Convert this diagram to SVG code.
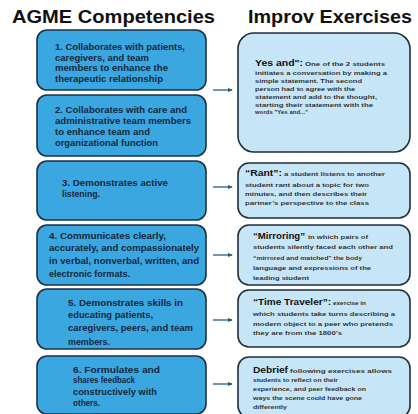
<svg xmlns="http://www.w3.org/2000/svg" width="418" height="414" viewBox="0 0 418 414">
<defs>
<style>
.bg{fill:#ffffff}
.hd{font-family:"Liberation Sans",Arial,sans-serif;font-weight:bold;font-size:18px;fill:#111111}
.lb{fill:#3aa7e1;stroke:#1c3148;stroke-width:1.6}
.rb{fill:#c6e5f7;stroke:#1c2e3e;stroke-width:1.6}
.lt{font-family:"Liberation Sans",Arial,sans-serif;font-weight:bold;font-size:8.2px;fill:#15263a}
.rt{font-family:"Liberation Sans",Arial,sans-serif;font-weight:bold;font-size:6.2px;fill:#333333}
.tt{font-family:"Liberation Sans",Arial,sans-serif;font-weight:bold;font-size:8.6px;fill:#111111}
.ar{stroke:#2b5b7c;stroke-width:1.3;fill:none;marker-end:url(#ah)}
</style>
<marker id="ah" viewBox="0 0 6 6" refX="5" refY="3" markerWidth="5" markerHeight="5" orient="auto" markerUnits="userSpaceOnUse">
<path d="M0,0.5 L6,3 L0,5.5 Z" fill="#2b5b7c"/>
</marker>
</defs>
<rect class="bg" x="0" y="0" width="418" height="414"/>
<g id="headers">
<text class="hd" x="12" y="23" textLength="203" lengthAdjust="spacingAndGlyphs">AGME Competencies</text>
<text class="hd" x="248" y="23" textLength="164" lengthAdjust="spacingAndGlyphs">Improv Exercises</text>
</g>
<g id="c1">
<rect class="lb" x="37" y="30" width="169" height="60" rx="10"/>
<text class="lt" x="55" y="50" textLength="130" lengthAdjust="spacingAndGlyphs">1. Collaborates with patients,</text>
<text class="lt" x="55" y="60.5" textLength="94" lengthAdjust="spacingAndGlyphs">caregivers, and team</text>
<text class="lt" x="55" y="71" textLength="113" lengthAdjust="spacingAndGlyphs">members to enhance the</text>
<text class="lt" x="55" y="81.5" textLength="108" lengthAdjust="spacingAndGlyphs">therapeutic relationship</text>
</g>
<g id="c2">
<rect class="lb" x="37" y="95" width="169" height="61" rx="10"/>
<text class="lt" x="55" y="113" textLength="132" lengthAdjust="spacingAndGlyphs">2. Collaborates with care and</text>
<text class="lt" x="55" y="124" textLength="136" lengthAdjust="spacingAndGlyphs">administrative team members</text>
<text class="lt" x="55" y="135" textLength="95" lengthAdjust="spacingAndGlyphs">to enhance team and</text>
<text class="lt" x="55" y="146" textLength="103" lengthAdjust="spacingAndGlyphs">organizational function</text>
</g>
<g id="c3">
<rect class="lb" x="37" y="161" width="169" height="59" rx="10"/>
<text class="lt" x="62" y="186" textLength="106" lengthAdjust="spacingAndGlyphs">3.  Demonstrates active</text>
<text class="lt" x="62" y="197" textLength="38" lengthAdjust="spacingAndGlyphs">listening.</text>
</g>
<g id="c4">
<rect class="lb" x="37" y="225" width="169" height="60" rx="10"/>
<text class="lt" x="49" y="239" textLength="117" lengthAdjust="spacingAndGlyphs">4.  Communicates clearly,</text>
<text class="lt" x="49" y="251" textLength="150" lengthAdjust="spacingAndGlyphs">accurately, and compassionately</text>
<text class="lt" x="49" y="263.5" textLength="150" lengthAdjust="spacingAndGlyphs">in verbal, nonverbal, written, and</text>
<text class="lt" x="49" y="276.5" textLength="81" lengthAdjust="spacingAndGlyphs">electronic formats.</text>
</g>
<g id="c5">
<rect class="lb" x="37" y="289" width="169" height="60" rx="10"/>
<text class="lt" x="68" y="306" textLength="115" lengthAdjust="spacingAndGlyphs">5.  Demonstrates skills in</text>
<text class="lt" x="68" y="318" textLength="85" lengthAdjust="spacingAndGlyphs">educating patients,</text>
<text class="lt" x="68" y="331" textLength="125" lengthAdjust="spacingAndGlyphs">caregivers, peers, and team</text>
<text class="lt" x="68" y="344.5" textLength="42" lengthAdjust="spacingAndGlyphs">members.</text>
</g>
<g id="c6">
<rect class="lb" x="37" y="356" width="169" height="58" rx="10"/>
<text class="lt" x="73" y="373" textLength="87" lengthAdjust="spacingAndGlyphs">6.  Formulates and</text>
<text class="lt" x="73" y="383" textLength="62" lengthAdjust="spacingAndGlyphs">shares feedback</text>
<text class="lt" x="73" y="395" textLength="84" lengthAdjust="spacingAndGlyphs">constructively with</text>
<text class="lt" x="73" y="406" textLength="27" lengthAdjust="spacingAndGlyphs">others.</text>
</g>
<g id="connectors">
<line class="ar" x1="213" y1="90" x2="232" y2="90"/>
<line class="ar" x1="213" y1="187" x2="232" y2="187"/>
<line class="ar" x1="213" y1="255" x2="232" y2="255"/>
<line class="ar" x1="213" y1="320" x2="232" y2="320"/>
<line class="ar" x1="213" y1="384" x2="232" y2="384"/>
</g>
<g id="e1">
<rect class="rb" x="238" y="33" width="172" height="119" rx="16"/>
<text class="tt" x="255" y="66" textLength="48" lengthAdjust="spacingAndGlyphs">Yes and":</text>
<text class="rt" x="305" y="66" textLength="80" lengthAdjust="spacingAndGlyphs">One of the 2 students</text>
<text class="rt" x="255" y="75" textLength="132" lengthAdjust="spacingAndGlyphs">initiates a conversation by making a</text>
<text class="rt" x="255" y="83" textLength="107" lengthAdjust="spacingAndGlyphs">simple statement. The second</text>
<text class="rt" x="255" y="90.5" textLength="100" lengthAdjust="spacingAndGlyphs">person had to agree with the</text>
<text class="rt" x="255" y="98.5" textLength="122" lengthAdjust="spacingAndGlyphs">statement and add to the thought,</text>
<text class="rt" x="255" y="106.5" textLength="118" lengthAdjust="spacingAndGlyphs">starting their statement with the</text>
<text class="rt" x="255" y="114" textLength="53" lengthAdjust="spacingAndGlyphs">words "Yes and..."</text>
</g>
<g id="e2">
<rect class="rb" x="238" y="163" width="172" height="55" rx="11"/>
<text class="tt" x="245" y="176" textLength="37" lengthAdjust="spacingAndGlyphs">“Rant”:</text>
<text class="rt" x="284" y="176" textLength="101" lengthAdjust="spacingAndGlyphs">a student listens to another</text>
<text class="rt" x="245" y="186.5" textLength="124" lengthAdjust="spacingAndGlyphs">student rant about a topic for two</text>
<text class="rt" x="245" y="195.5" textLength="122" lengthAdjust="spacingAndGlyphs">minutes, and then describes their</text>
<text class="rt" x="245" y="204.5" textLength="124" lengthAdjust="spacingAndGlyphs">partner’s perspective to the class</text>
</g>
<g id="e3">
<rect class="rb" x="238" y="225" width="172" height="60" rx="11"/>
<text class="tt" x="253" y="239" textLength="52" lengthAdjust="spacingAndGlyphs">“Mirroring”</text>
<text class="rt" x="308" y="239" textLength="60" lengthAdjust="spacingAndGlyphs">in which pairs of</text>
<text class="rt" x="253" y="248.5" textLength="140" lengthAdjust="spacingAndGlyphs">students silently faced each other and</text>
<text class="rt" x="253" y="259.5" textLength="109" lengthAdjust="spacingAndGlyphs">“mirrored and matched” the body</text>
<text class="rt" x="253" y="269.5" textLength="118" lengthAdjust="spacingAndGlyphs">language and expressions of the</text>
<text class="rt" x="253" y="279.5" textLength="56" lengthAdjust="spacingAndGlyphs">leading student</text>
</g>
<g id="e4">
<rect class="rb" x="238" y="290" width="172" height="57" rx="11"/>
<text class="tt" x="253" y="305" textLength="78" lengthAdjust="spacingAndGlyphs">“Time Traveler”:</text>
<text class="rt" x="333" y="305" textLength="33" lengthAdjust="spacingAndGlyphs">exercise in</text>
<text class="rt" x="253" y="316" textLength="142" lengthAdjust="spacingAndGlyphs">which students take turns describing a</text>
<text class="rt" x="253" y="325.5" textLength="140" lengthAdjust="spacingAndGlyphs">modern object to a peer who pretends</text>
<text class="rt" x="253" y="335" textLength="89" lengthAdjust="spacingAndGlyphs">they are from the 1800’s</text>
</g>
<g id="e5">
<rect class="rb" x="238" y="357" width="172" height="60" rx="11"/>
<text class="tt" x="253" y="372.5" textLength="35" lengthAdjust="spacingAndGlyphs">Debrief</text>
<text class="rt" x="290" y="372.5" textLength="102" lengthAdjust="spacingAndGlyphs">following exercises allows</text>
<text class="rt" x="253" y="381.5" textLength="85" lengthAdjust="spacingAndGlyphs">students to reflect on their</text>
<text class="rt" x="253" y="391" textLength="113" lengthAdjust="spacingAndGlyphs">experience, and peer feedback on</text>
<text class="rt" x="253" y="400" textLength="109" lengthAdjust="spacingAndGlyphs">ways the scene could have gone</text>
<text class="rt" x="253" y="409" textLength="34" lengthAdjust="spacingAndGlyphs">differently</text>
</g>
</svg>
